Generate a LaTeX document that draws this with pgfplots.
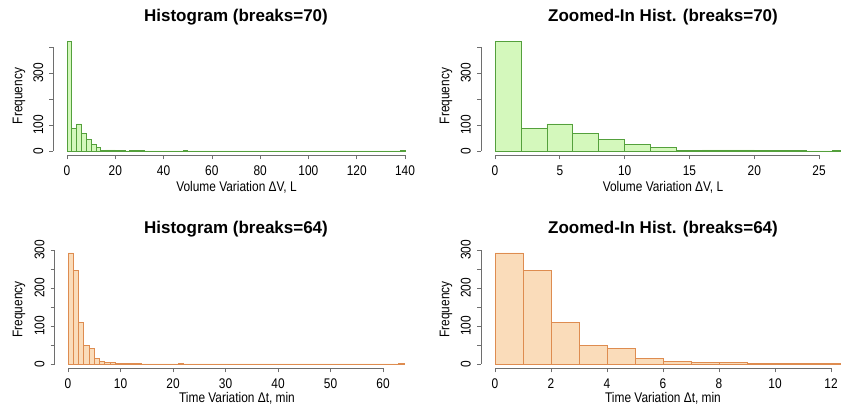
\documentclass[border=0pt]{standalone}
\usepackage{fontspec}
\setmainfont{Liberation Sans}
\newfontfamily\lblfont{Liberation Sans}[FakeStretch=0.85]
\usepackage{pgfplots}
\usepackage{pgfplotstable}
\pgfplotsset{compat=1.18}

\definecolor{grfill}{RGB}{212,248,188}
\definecolor{grline}{RGB}{84,160,60}
\definecolor{orfill}{RGB}{250,220,186}
\definecolor{orline}{RGB}{222,140,80}
\definecolor{axgray}{RGB}{110,110,110}

% volume variation, bins of 2 L (left edges, last row = right edge)
\pgfplotstableread{
x y
0 423
2 86
4 104
6 69
8 44
10 26
12 14
14 2
16 4
18 4
20 1
22 1
24 0
26 1
28 1
30 1
32 0
34 0
36 0
38 0
40 0
42 0
44 0
46 0
48 1
50 0
60 0
70 0
80 0
90 0
100 0
110 0
120 0
130 0
138 1
140 0
}\volume

% time variation, bins of 1 min
\pgfplotstableread{
x y
0 292
1 245
2 109
3 48
4 41
5 14
6 6
7 3
8 3
9 2
10 1
11 1
12 1
13 2
14 0
21 1
22 0
63 1
64 0
}\timevar

\pgfplotsset{
  rhist/.style={
    scale only axis, anchor=south west, clip=false,
    axis x line*=bottom, axis y line*=left,
    axis line style={draw=none},
    tick align=outside, major tick length=4pt,
    tick style={axgray, line width=0.7pt},
    /pgf/number format/assume math mode=true,
    tick label style={font=\lblfont\fontsize{14}{14}\selectfont, inner sep=0pt},
    xticklabel shift=6pt,
    yticklabel style={rotate=90, anchor=south},
    yticklabel shift=6pt,
  },
}

\begin{document}
\begin{tikzpicture}[x=1pt,y=1pt]
\useasboundingbox (0,0) rectangle (841,410);

% ---- top left
\begin{axis}[rhist, at={(53.5pt,254.6pt)}, width=365pt, height=118.8pt,
  xmin=-5.6, xmax=145.6, ymin=-17, ymax=440,
  xtick={0,20,...,140}, ytick={0,100,...,400}, yticklabels={0,100,{},300,{}}]
  \addplot[ybar interval, fill=grfill, draw=grline, line width=0.7pt] table[x=x,y=y]{\volume};
  \draw[axgray, line width=0.7pt] (axis cs:0,-17) -- (axis cs:140,-17);
  \draw[axgray, line width=0.7pt] (axis cs:-5.6,0) -- (axis cs:-5.6,400);
\end{axis}

% ---- top right
\begin{axis}[rhist, at={(481pt,254.6pt)}, width=378pt, height=118.8pt,
  xmin=-1.08, xmax=28.08, ymin=-17, ymax=440,
  xtick={0,5,...,25}, ytick={0,100,...,400}, yticklabels={0,100,{},300,{}}]
  \addplot[ybar interval, fill=grfill, draw=grline, line width=0.7pt,
    restrict x to domain=0:28] table[x=x,y=y]{\volume};
  \draw[axgray, line width=0.7pt] (axis cs:0,-17) -- (axis cs:25,-17);
  \draw[axgray, line width=0.7pt] (axis cs:-1.08,0) -- (axis cs:-1.08,400);
\end{axis}

% ---- bottom left
\begin{axis}[rhist, at={(54.6pt,41.6pt)}, width=362.9pt, height=119.9pt,
  xmin=-2.56, xmax=66.56, ymin=-11.7, ymax=303.7,
  xtick={0,10,...,60}, ytick={0,50,...,300}, yticklabels={0,{},100,{},200,{},300}]
  \addplot[ybar interval, fill=orfill, draw=orline, line width=0.7pt] table[x=x,y=y]{\timevar};
  \draw[axgray, line width=0.7pt] (axis cs:0,-11.7) -- (axis cs:60,-11.7);
  \draw[axgray, line width=0.7pt] (axis cs:-2.56,0) -- (axis cs:-2.56,300);
\end{axis}

% ---- bottom right
\begin{axis}[rhist, at={(481pt,41.6pt)}, width=378pt, height=119.9pt,
  xmin=-0.5, xmax=13, ymin=-11.7, ymax=303.7,
  xtick={0,2,...,12}, ytick={0,50,...,300}, yticklabels={0,{},100,{},200,{},300}]
  \addplot[ybar interval, fill=orfill, draw=orline, line width=0.7pt,
    restrict x to domain=0:13] table[x=x,y=y]{\timevar};
  \draw[axgray, line width=0.7pt] (axis cs:0,-11.7) -- (axis cs:12,-11.7);
  \draw[axgray, line width=0.7pt] (axis cs:-0.5,0) -- (axis cs:-0.5,300);
\end{axis}

% titles and labels
\begin{scope}[every node/.style={inner sep=0pt}]
\node[font=\bfseries\fontsize{17}{17}\selectfont] at (236,393) {Histogram (breaks=70)};
\node[font=\bfseries\fontsize{17}{17}\selectfont] at (663,393) {Zoomed-In Hist. (breaks=70)};
\node[font=\bfseries\fontsize{17}{17}\selectfont] at (236,181) {Histogram (breaks=64)};
\node[font=\bfseries\fontsize{17}{17}\selectfont] at (663,181) {Zoomed-In Hist. (breaks=64)};
\node[font=\lblfont\fontsize{14}{14}\selectfont] at (236.5,223) {Volume Variation ΔV, L};
\node[font=\lblfont\fontsize{14}{14}\selectfont] at (663,223) {Volume Variation ΔV, L};
\node[font=\lblfont\fontsize{14}{14}\selectfont] at (237,12) {Time Variation Δt, min};
\node[font=\lblfont\fontsize{14}{14}\selectfont] at (663,12) {Time Variation Δt, min};
\node[font=\lblfont\fontsize{14}{14}\selectfont, rotate=90] at (19,314) {Frequency};
\node[font=\lblfont\fontsize{14}{14}\selectfont, rotate=90] at (446,314) {Frequency};
\node[font=\lblfont\fontsize{14}{14}\selectfont, rotate=90] at (19,100.5) {Frequency};
\node[font=\lblfont\fontsize{14}{14}\selectfont, rotate=90] at (446,100.5) {Frequency};
\end{scope}
\end{tikzpicture}
\end{document}
